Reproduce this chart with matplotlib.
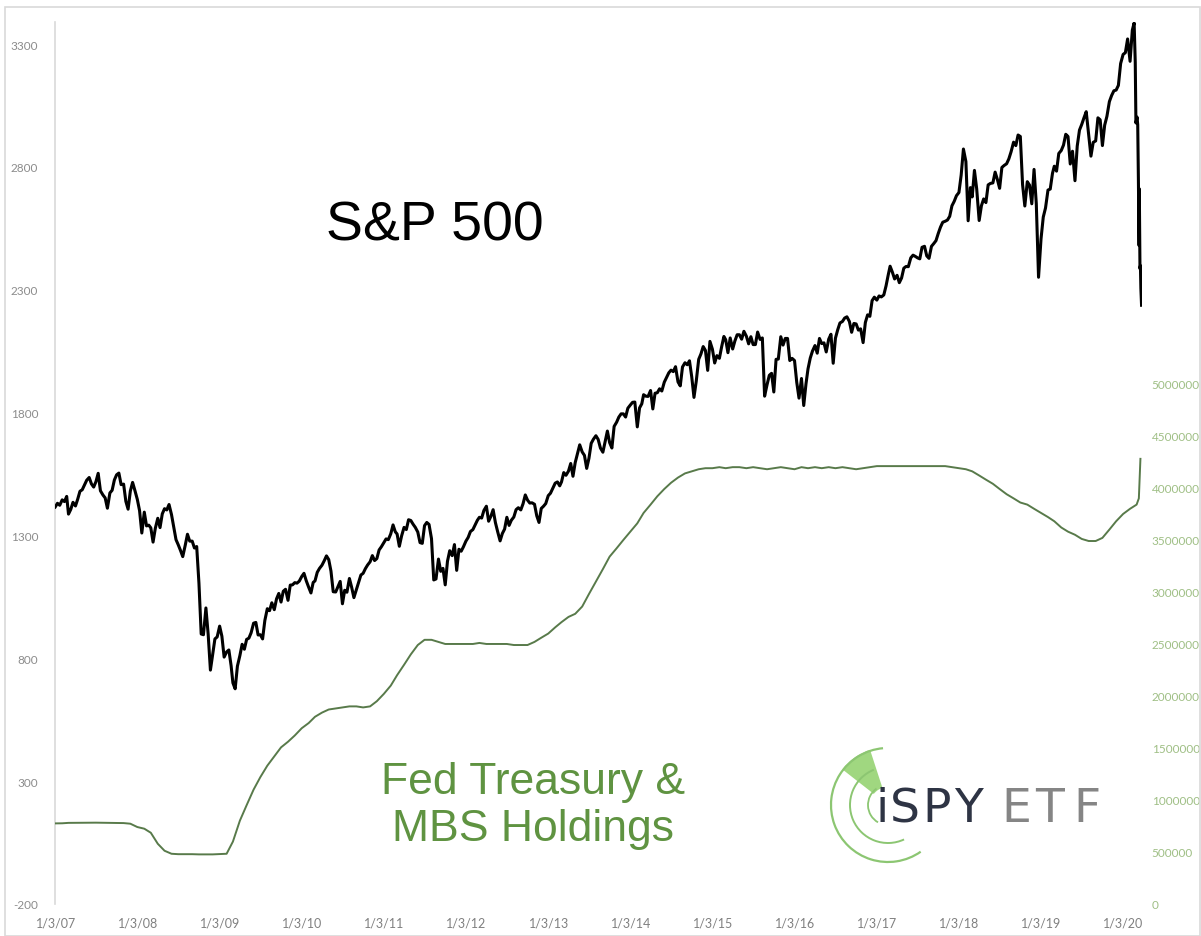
import matplotlib
matplotlib.use("Agg")
import matplotlib.pyplot as plt
from matplotlib.patches import Arc, Wedge, Rectangle
import pandas as pd

# S&P 500, three readings per month (around the 1st, 11th and 21st)
sp_2007 = [1416, 1431, 1423, 1445, 1438, 1459, 1387, 1406, 1435, 1420, 1448, 1480,
           1486, 1505, 1525, 1536, 1510, 1497, 1519, 1553, 1482, 1465, 1453, 1411,
           1473, 1484, 1526, 1547, 1554, 1507, 1509, 1439, 1407, 1481, 1516, 1484]
sp_2008 = [1447, 1401, 1310, 1395, 1339, 1342, 1331, 1273, 1329, 1370, 1332, 1388,
           1409, 1404, 1426, 1385, 1335, 1283, 1262, 1239, 1214, 1260, 1305, 1277,
           1277, 1249, 1255, 1106, 899, 896, 1005, 898, 752, 816, 879, 887]
sp_2009 = [931, 890, 805, 826, 834, 770, 700, 676, 768, 811, 857, 837,
           877, 882, 904, 943, 946, 895, 896, 879, 954, 1002, 994, 1026,
           998, 1042, 1064, 1029, 1073, 1081, 1036, 1098, 1099, 1108, 1106, 1114]
sp_2010 = [1133, 1146, 1116, 1089, 1066, 1109, 1115, 1150, 1166, 1179, 1197, 1217,
           1202, 1155, 1071, 1070, 1091, 1113, 1022, 1077, 1069, 1125, 1089, 1047,
           1080, 1109, 1139, 1146, 1165, 1180, 1193, 1218, 1198, 1206, 1241, 1254]
sp_2011 = [1271, 1286, 1283, 1307, 1343, 1315, 1306, 1256, 1298, 1333, 1324, 1364,
           1361, 1346, 1333, 1314, 1271, 1268, 1340, 1353, 1345, 1287, 1119, 1123,
           1204, 1154, 1166, 1099, 1195, 1238, 1218, 1263, 1158, 1244, 1236, 1254]
sp_2012 = [1277, 1292, 1316, 1324, 1343, 1362, 1374, 1371, 1402, 1419, 1358, 1378,
           1405, 1353, 1316, 1278, 1308, 1326, 1374, 1341, 1362, 1375, 1405, 1413,
           1404, 1429, 1465, 1444, 1432, 1433, 1427, 1380, 1353, 1410, 1419, 1430]
sp_2013 = [1462, 1472, 1492, 1513, 1518, 1502, 1518, 1556, 1545, 1562, 1593, 1541,
           1597, 1633, 1669, 1640, 1626, 1573, 1614, 1675, 1692, 1706, 1691, 1656,
           1639, 1683, 1725, 1678, 1656, 1744, 1761, 1782, 1795, 1795, 1782, 1818]
sp_2014 = [1831, 1842, 1843, 1742, 1819, 1836, 1873, 1867, 1866, 1890, 1815, 1879,
           1881, 1897, 1888, 1924, 1943, 1962, 1973, 1967, 1987, 1925, 1909, 1986,
           2003, 1995, 2011, 1946, 1862, 1927, 2017, 2039, 2069, 2053, 1972, 2090]
sp_2015 = [2058, 2002, 2032, 2021, 2068, 2110, 2097, 2044, 2104, 2059, 2092, 2117,
           2117, 2099, 2131, 2111, 2080, 2109, 2077, 2077, 2128, 2098, 2104, 1867,
           1914, 1952, 1960, 1884, 2017, 2018, 2109, 2075, 2102, 2102, 2012, 2021]
sp_2016 = [2012, 1923, 1859, 1939, 1829, 1917, 1978, 2022, 2051, 2073, 2042, 2102,
           2081, 2084, 2047, 2099, 2119, 2001, 2103, 2137, 2165, 2171, 2185, 2190,
           2171, 2127, 2163, 2161, 2136, 2141, 2085, 2167, 2198, 2192, 2256, 2270]
sp_2017 = [2258, 2275, 2271, 2279, 2316, 2362, 2396, 2372, 2344, 2359, 2329, 2348,
           2388, 2395, 2394, 2430, 2441, 2436, 2430, 2426, 2473, 2477, 2438, 2428,
           2477, 2488, 2500, 2529, 2555, 2575, 2579, 2584, 2599, 2642, 2660, 2683]
sp_2018 = [2696, 2767, 2873, 2822, 2581, 2716, 2678, 2786, 2711, 2582, 2642, 2670,
           2655, 2727, 2733, 2735, 2779, 2749, 2713, 2798, 2806, 2813, 2833, 2862,
           2901, 2887, 2930, 2924, 2728, 2641, 2740, 2726, 2650, 2790, 2651, 2351]
sp_2019 = [2507, 2596, 2633, 2706, 2710, 2774, 2803, 2783, 2855, 2867, 2889, 2933,
           2924, 2812, 2864, 2744, 2885, 2950, 2973, 3000, 3025, 2932, 2844, 2900,
           2906, 3000, 2992, 2887, 2970, 3006, 3066, 3091, 3110, 3113, 3132, 3221]
sp_2020 = [3258, 3265, 3321, 3230, 3357]
sp_crash_dates = ["2020-02-19", "2020-02-24", "2020-02-27", "2020-03-03", "2020-03-06",
                  "2020-03-09", "2020-03-12", "2020-03-13", "2020-03-16", "2020-03-18",
                  "2020-03-20", "2020-03-23"]
sp_crash = [3386, 3226, 2979, 3003, 2972, 2746, 2480, 2711, 2386, 2398, 2305, 2237]

# Fed Treasury & MBS holdings ($ millions), monthly
fed_2007 = [775000, 776000, 780000, 780000, 781000, 782000, 782000, 781000, 780000, 780000, 778000, 772000]
fed_2008 = [740000, 724000, 685000, 579000, 512000, 483000, 479000, 479000, 479000, 477000, 477000, 477000]
fed_2009 = [480000, 483000, 600000, 801000, 950000, 1100000, 1220000, 1330000, 1420000, 1506000, 1560000, 1620000]
fed_2010 = [1690000, 1740000, 1800000, 1840000, 1870000, 1880000, 1890000, 1900000, 1900000, 1890000, 1900000, 1950000]
fed_2011 = [2020000, 2100000, 2200000, 2300000, 2400000, 2490000, 2540000, 2540000, 2520000, 2500000, 2500000, 2500000]
fed_2012 = [2500000, 2500000, 2510000, 2500000, 2500000, 2500000, 2500000, 2490000, 2490000, 2490000, 2520000, 2560000]
fed_2013 = [2600000, 2660000, 2710000, 2760000, 2790000, 2860000, 2980000, 3100000, 3220000, 3340000, 3420000, 3500000]
fed_2014 = [3580000, 3660000, 3760000, 3840000, 3920000, 3990000, 4050000, 4100000, 4140000, 4160000, 4180000, 4190000]
fed_2015 = [4190000, 4200000, 4190000, 4200000, 4200000, 4190000, 4200000, 4190000, 4180000, 4190000, 4200000, 4190000]
fed_2016 = [4180000, 4200000, 4190000, 4200000, 4190000, 4200000, 4190000, 4200000, 4190000, 4180000, 4190000, 4200000]
fed_2017 = [4210000, 4210000, 4210000, 4210000, 4210000, 4210000, 4210000, 4210000, 4210000, 4210000, 4210000, 4200000]
fed_2018 = [4190000, 4180000, 4160000, 4120000, 4080000, 4040000, 3990000, 3940000, 3900000, 3860000, 3840000, 3800000]
fed_2019 = [3760000, 3720000, 3680000, 3620000, 3580000, 3550000, 3510000, 3490000, 3490000, 3520000, 3600000, 3680000]
fed_2020 = [3750000, 3800000, 3840000]
fed_tail_dates = ["2020-03-11", "2020-03-18"]
fed_tail = [3900000, 4280000]

left_ticks = [-200, 300, 800, 1300, 1800, 2300, 2800, 3300]
right_ticks = [0, 500000, 1000000, 1500000, 2000000, 2500000, 3000000, 3500000,
               4000000, 4500000, 5000000]
x_label_years = list(range(2007, 2021))

# --- assemble series --------------------------------------------------------
sp_years = [sp_2007, sp_2008, sp_2009, sp_2010, sp_2011, sp_2012, sp_2013,
            sp_2014, sp_2015, sp_2016, sp_2017, sp_2018, sp_2019, sp_2020]
sp_dates, sp_vals = [], []
for i, vals in enumerate(sp_years):
    for k, v in enumerate(vals):
        sp_dates.append(pd.Timestamp(2007 + i, k // 3 + 1, (1, 11, 21)[k % 3]))
        sp_vals.append(v)
sp_dates += [pd.Timestamp(d) for d in sp_crash_dates]
sp_vals += sp_crash

fed_years = [fed_2007, fed_2008, fed_2009, fed_2010, fed_2011, fed_2012, fed_2013,
             fed_2014, fed_2015, fed_2016, fed_2017, fed_2018, fed_2019, fed_2020]
fed_dates, fed_vals = [], []
for i, vals in enumerate(fed_years):
    for k, v in enumerate(vals):
        fed_dates.append(pd.Timestamp(2007 + i, k + 1, 1))
        fed_vals.append(v)
fed_dates += [pd.Timestamp(d) for d in fed_tail_dates]
fed_vals += fed_tail

# --- figure ---------------------------------------------------------------
W, H = 1201, 937
fig = plt.figure(figsize=(W / 100, H / 100), dpi=100)
ax = fig.add_axes([55 / W, 1 - 905 / H, (1142 - 55) / W, (905 - 23) / H])
ax2 = ax.twinx()

ax.plot(sp_dates, sp_vals, color="black", linewidth=2.2, zorder=3)
ax2.plot(fed_dates, fed_vals, color="#587a4a", linewidth=1.4)

ax.set_xlim(pd.Timestamp("2006-12-31"), pd.Timestamp("2020-03-25"))
ax.set_ylim(-200, 3390)
ax2.set_ylim(0, 8480000)

tick_font = "Lato"
ax.set_yticks(left_ticks)
ax.set_yticklabels([str(t) for t in left_ticks], fontsize=8.5, color="#8c8c8c",
                   family=tick_font)
ax2.set_yticks(right_ticks)
ax2.set_yticklabels([str(t) for t in right_ticks], fontsize=8.5, color="#9fbf85",
                    family=tick_font)
ax.set_xticks([pd.Timestamp(y, 1, 3) for y in x_label_years])
ax.set_xticklabels([f"1/3/{y % 100:02d}" for y in x_label_years], fontsize=9,
                   color="#808080", family=tick_font)
ax.tick_params(axis="y", length=0, pad=12)
ax2.tick_params(axis="y", length=0, pad=7)
ax.tick_params(axis="x", length=0, pad=9)

for s in ["top", "right", "bottom"]:
    ax.spines[s].set_visible(False)
for s in ax2.spines.values():
    s.set_visible(False)
ax.spines["left"].set_color("#d9d9d9")
ax.spines["left"].set_linewidth(1.2)

# --- annotations ------------------------------------------------------------
ax.text(0.349, 0.769, "S&P 500", transform=ax.transAxes, fontsize=40,
        family="Liberation Sans", ha="center", va="center", color="black")
ax.text(0.440, 0.112, "Fed Treasury &\nMBS Holdings", transform=ax.transAxes,
        fontsize=32, family="Liberation Sans", ha="center", va="center",
        color="#5f9341", linespacing=1.2)

# overlay in pixel coordinates for the logo and chart border
ov = fig.add_axes([0, 0, 1, 1], zorder=5)
ov.set_xlim(0, W)
ov.set_ylim(0, H)
ov.axis("off")
ov.patch.set_alpha(0)
ov.add_patch(Rectangle((5, 0), W - 6, H - 8, fill=False, edgecolor="#d9d9d9",
                       linewidth=1.2))

cx, cy = 888, H - 806
ov.add_patch(Wedge((cx, cy), 58, 108, 142, width=40, facecolor="#8fd06a",
                   edgecolor="none", alpha=0.85))
for r, t1, t2, lw in [(57, 95, 305, 1.6), (38, 112, 295, 1.4), (20, 125, 240, 1.3)]:
    ov.add_patch(Arc((cx, cy), 2 * r, 2 * r, theta1=t1, theta2=t2,
                     color="#8cc672", linewidth=lw))
logo_letters = ["i", "S", "P", "Y", "E", "T", "F"]
logo_x = [882, 905, 937, 969, 1016, 1050, 1087]
for ch, lx in zip(logo_letters, logo_x):
    ov.text(lx, H - 810, ch, fontsize=34, family="DejaVu Sans",
            color="#2e3444" if ch in "iSPY" else "#858585", ha="center", va="center")

fig.savefig("out.png", dpi=100)
